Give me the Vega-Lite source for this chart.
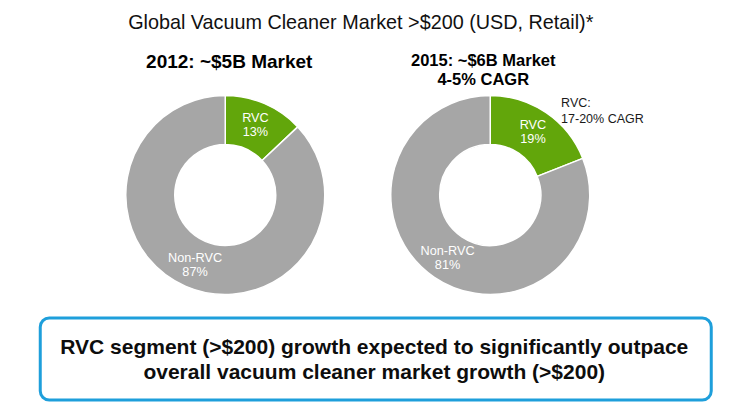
{
  "$schema": "https://vega.github.io/schema/vega-lite/v6.json",
  "padding": {"left": 38, "top": 13, "right": 5, "bottom": 5},
  "background": "white",
  "title": {
    "text": "Global Vacuum Cleaner Market >$200 (USD, Retail)*",
    "fontSize": 19.8,
    "fontWeight": "normal",
    "font": "Liberation Sans",
    "color": "#111111",
    "anchor": "middle",
    "dx": -15,
    "offset": 20
  },
  "config": {
    "view": {"stroke": null},
    "font": "Liberation Sans",
    "title": {"font": "Liberation Sans", "color": "#000000"}
  },
  "datasets": {
    "shares": [
      {"year": 2012, "segment": "RVC", "share": 0.13},
      {"year": 2012, "segment": "Non-RVC", "share": 0.87},
      {"year": 2015, "segment": "RVC", "share": 0.19, "note": "RVC:\n17-20% CAGR"},
      {"year": 2015, "segment": "Non-RVC", "share": 0.81}
    ]
  },
  "spacing": 18,
  "center": true,
  "vconcat": [
    {
      "spacing": 0,
      "bounds": "flush",
      "hconcat": [
        {
          "width": 232,
          "height": 200,
          "title": {"text": "2012: ~$5B Market", "fontSize": 19, "fontWeight": "bold", "offset": 20.2, "dx": 4},
          "data": {"name": "shares"},
          "transform": [{"filter": "datum.year == 2012"}],
          "encoding": {
            "theta": {"field": "share", "type": "quantitative", "stack": true, "scale": {"domain": [0, 1]}},
            "order": {"field": "segment", "sort": "descending"}
          },
          "layer": [
            {
              "mark": {"type": "arc", "radius": 99.5, "radius2": 50.5, "stroke": "white", "strokeWidth": 1.5},
              "encoding": {
                "color": {"field": "segment", "type": "nominal", "scale": {"domain": ["RVC", "Non-RVC"], "range": ["#62A60B", "#A6A6A6"]}, "legend": null}
              }
            },
            {
              "mark": {"type": "text", "radius": 76, "dy": -7.15, "fontSize": 12.7, "color": "white"},
              "encoding": {"text": {"field": "segment"}}
            },
            {
              "mark": {"type": "text", "radius": 76, "dy": 7.15, "fontSize": 12.7, "color": "white"},
              "encoding": {"text": {"field": "share", "type": "quantitative", "format": ".0%"}}
            }
          ]
        },
        {
          "width": 298,
          "height": 200,
          "title": {"text": ["2015: ~$6B Market", "4-5% CAGR"], "fontSize": 16.5, "lineHeight": 19.5, "fontWeight": "bold", "offset": 3.7, "dx": -7},
          "data": {"name": "shares"},
          "transform": [{"filter": "datum.year == 2015"}],
          "encoding": {
            "theta": {"field": "share", "type": "quantitative", "stack": true, "scale": {"domain": [0, 1]}},
            "order": {"field": "segment", "sort": "descending"}
          },
          "layer": [
            {
              "mark": {"type": "arc", "radius": 99.5, "radius2": 50.5, "stroke": "white", "strokeWidth": 1.5},
              "encoding": {
                "color": {"field": "segment", "type": "nominal", "scale": {"domain": ["RVC", "Non-RVC"], "range": ["#62A60B", "#A6A6A6"]}, "legend": null}
              }
            },
            {
              "mark": {"type": "text", "radius": 76, "dy": -7.15, "fontSize": 12.7, "color": "white"},
              "encoding": {"text": {"field": "segment"}}
            },
            {
              "mark": {"type": "text", "radius": 76, "dy": 7.15, "fontSize": 12.7, "color": "white"},
              "encoding": {"text": {"field": "share", "type": "quantitative", "format": ".0%"}}
            },
            {
              "transform": [{"filter": "datum.note"}],
              "mark": {"type": "text", "radius": 110, "dx": 9, "dy": -1, "align": "left", "baseline": "middle", "lineBreak": "\n", "lineHeight": 15.6, "fontSize": 12.5, "color": "#1a1a1a"},
              "encoding": {"text": {"field": "note"}}
            }
          ]
        }
      ]
    },
    {
      "width": 671,
      "height": 82,
      "view": {"stroke": "#1E9FDB", "strokeWidth": 3, "cornerRadius": 9, "fill": "white"},
      "data": {"values": [{"message": "RVC segment (>$200) growth expected to significantly outpace\noverall vacuum cleaner market growth (>$200)"}]},
      "mark": {"type": "text", "lineBreak": "\n", "lineHeight": 24.3, "fontSize": 21, "fontWeight": "bold", "color": "#0d0d0d", "align": "center", "baseline": "middle", "dy": -10.7, "dx": -1.5},
      "encoding": {"text": {"field": "message"}}
    }
  ]
}
